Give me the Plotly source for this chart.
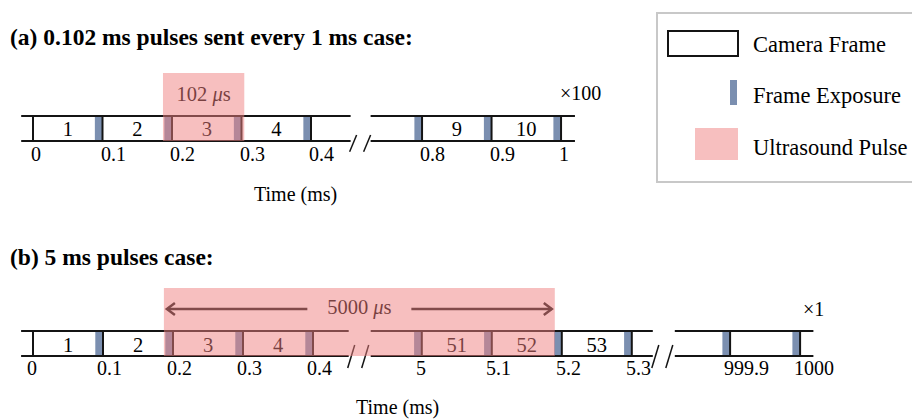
import plotly.graph_objects as go

# ---------------- data ----------------
title_a = "(a) 0.102 ms pulses sent every 1 ms case:"
ticks_a = [0, 0.1, 0.2, 0.3, 0.4, 0.8, 0.9, 1.0]
tick_labels_a = ["0", "0.1", "0.2", "0.3", "0.4", "0.8", "0.9", "1"]
exposure_a = [0.1, 0.2, 0.3, 0.4, 0.8, 0.9, 1.0]
frame_starts_a = [0, 0.1, 0.2, 0.3, 0.8, 0.9]
frame_labels_a = ["1", "2", "3", "4", "9", "10"]
segments_a = [(-0.017, 0.457), (0.726, 1.020)]   # shown time windows (ms)
pulse_a = [0.187, 0.304]
pulse_label_a = "102 <i>μ</i>s"
repeat_a = "×100"

title_b = "(b) 5 ms pulses case:"
ticks_b = [0, 0.1, 0.2, 0.3, 0.4, 5, 5.1, 5.2, 5.3, 999.9, 1000]
tick_labels_b = ["0", "0.1", "0.2", "0.3", "0.4", "5", "5.1", "5.2", "5.3", "999.9", "1000"]
exposure_b = [0.1, 0.2, 0.3, 0.4, 5, 5.1, 5.2, 5.3, 999.9, 1000]
frame_starts_b = [0, 0.1, 0.2, 0.3, 5, 5.1, 5.2]
frame_labels_b = ["1", "2", "3", "4", "51", "52", "53"]
segments_b = [(-0.017, 0.451), (4.927, 5.33), (999.821, 1000.019)]
pulse_b = [0.187, 5.19]
pulse_label_b = "5000 <i>μ</i>s"
repeat_b = "×1"

x_title = "Time (ms)"
legend_labels = ["Camera Frame", "Frame Exposure", "Ultrasound Pulse"]

# ---------------- style ----------------
W, H = 912, 420
FONT = "Liberation Serif, Times New Roman, serif"
BLACK = "#141414"
BLUE = "#7b8fb0"
PINK = "rgba(240,128,128,0.5)"
EXPO_W = 0.011        # exposure bar width (ms)
FRAME_LW = 2


def make_mapper(segments, gap):
    offs, prev_end = [], None
    for i, (t0, t1) in enumerate(segments):
        d0 = t0 if i == 0 else prev_end + gap
        offs.append(t0 - d0)
        prev_end = d0 + (t1 - t0)

    def f(t):
        for (t0, t1), o in zip(segments, offs):
            if t0 - 1e-9 <= t <= t1 + 1e-9:
                return t - o
        return t - offs[-1]
    return f


def panel(cfg):
    xa, ya = cfg["xa"], cfg["ya"]
    scale = cfg["scale"]
    f = make_mapper(cfg["segments"], cfg["gap_px"] / scale)
    tr = []
    # exposure bars
    xs, ys = [], []
    for t in cfg["exposure"]:
        a, b = f(t - EXPO_W), f(t)
        xs += [a, b, b, a, a, None]
        ys += [0, 0, 1, 1, 0, None]
    tr.append(go.Scatter(x=xs, y=ys, fill="toself", fillcolor=BLUE, mode="lines",
                         line=dict(width=0), xaxis=xa, yaxis=ya, hoverinfo="skip"))
    # timeline lines + borders
    xs, ys = [], []
    for t0, t1 in cfg["segments"]:
        xs += [f(t0), f(t1), None, f(t0), f(t1), None]
        ys += [1, 1, None, 0, 0, None]
    for t in cfg["ticks"]:
        xs += [f(t), f(t), None]
        ys += [0, 1, None]
    tr.append(go.Scatter(x=xs, y=ys, mode="lines", line=dict(color=BLACK, width=FRAME_LW),
                         xaxis=xa, yaxis=ya, hoverinfo="skip"))
    # break slashes
    xs, ys = [], []
    for (s0, s1) in zip(cfg["segments"][:-1], cfg["segments"][1:]):
        g = f(s0[1])
        for p0, p1 in [(-1, 6), (13, 20)]:
            xs += [g + p0 / scale, g + p1 / scale, None]
            ys += [cfg["slash_y"][0], cfg["slash_y"][1], None]
    tr.append(go.Scatter(x=xs, y=ys, mode="lines", line=dict(color=BLACK, width=1.5),
                         xaxis=xa, yaxis=ya, hoverinfo="skip"))
    # frame numbers
    tr.append(go.Scatter(x=[f(t) + 0.05 for t in cfg["frame_starts"]],
                         y=[cfg["num_y"]] * len(cfg["frame_starts"]),
                         text=cfg["frame_labels"], mode="text",
                         textfont=dict(family=FONT, size=20.5, color="black"),
                         xaxis=xa, yaxis=ya, hoverinfo="skip"))
    # pulse label + arrows
    d0, d1 = f(cfg["pulse"][0]), f(cfg["pulse"][1])
    mid = (d0 + d1) / 2
    tr.append(go.Scatter(x=[mid], y=[cfg["plabel_y"]], text=[cfg["pulse_label"]], mode="text",
                         textfont=dict(family=FONT, size=20.5, color="black"),
                         xaxis=xa, yaxis=ya, hoverinfo="skip"))
    if cfg["arrows"]:
        ay = cfg["plabel_y"]
        tail = 52 / scale
        hl, hw = 8 / scale, 0.24
        lt, rt = d0 + 3 / scale, d1 - 3 / scale
        xs = [mid - tail, lt, None, lt + hl, lt, lt + hl, None,
              mid + tail, rt, None, rt - hl, rt, rt - hl]
        ys = [ay, ay, None, ay + hw, ay, ay - hw, None,
              ay, ay, None, ay + hw, ay, ay - hw]
        tr.append(go.Scatter(x=xs, y=ys, mode="lines", line=dict(color=BLACK, width=2.5),
                             xaxis=xa, yaxis=ya, hoverinfo="skip"))
    # pulse overlay (on top)
    top = cfg["pulse_top"]
    tr.append(go.Scatter(x=[d0, d1, d1, d0, d0], y=[0, 0, top, top, 0], fill="toself",
                         fillcolor=PINK, mode="lines", line=dict(width=0),
                         xaxis=xa, yaxis=ya, hoverinfo="skip"))
    ann = []
    for t, lab in zip(cfg["ticks"], cfg["tick_labels"]):
        ann.append(dict(x=f(t), y=cfg["tick_y"], xref=xa, yref=ya, text=lab, showarrow=False,
                        xanchor="left", yanchor="middle", xshift=cfg["tick_shift"],
                        font=dict(family=FONT, size=20, color="black")))
    ann.append(dict(x=f(cfg["segments"][-1][1]), y=cfg["rep_y"], xref=xa, yref=ya,
                    text=cfg["repeat"], showarrow=False, xanchor="center", yanchor="middle",
                    xshift=cfg["rep_shift"], font=dict(family=FONT, size=20, color="black")))
    return tr, ann


cfg_a = dict(xa="x", ya="y", scale=695, segments=segments_a, gap_px=20, exposure=exposure_a,
             ticks=ticks_a, tick_labels=tick_labels_a, frame_starts=frame_starts_a,
             frame_labels=frame_labels_a, pulse=pulse_a, pulse_label=pulse_label_a,
             repeat=repeat_a, arrows=False, num_y=0.42, plabel_y=1.8, pulse_top=2.72,
             tick_y=-0.52, tick_shift=-4, rep_y=1.92, rep_shift=6, slash_y=(-0.43, 0.24))
cfg_b = dict(xa="x2", ya="y2", scale=700, segments=segments_b, gap_px=22, exposure=exposure_b,
             ticks=ticks_b, tick_labels=tick_labels_b, frame_starts=frame_starts_b,
             frame_labels=frame_labels_b, pulse=pulse_b, pulse_label=pulse_label_b,
             repeat=repeat_b, arrows=True, num_y=0.38, plabel_y=1.88, pulse_top=2.72,
             tick_y=-0.48, tick_shift=-8, rep_y=1.88, rep_shift=0, slash_y=(-0.48, 0.44))

tr_a, ann_a = panel(cfg_a)
tr_b, ann_b = panel(cfg_b)

fig = go.Figure(tr_a + tr_b)


def X(px):
    return px / W


def Y(py):
    return 1 - py / H


ann = ann_a + ann_b
ann.append(dict(x=X(8), y=Y(37), xref="paper", yref="paper", text="<b>%s</b>" % title_a,
                showarrow=False, xanchor="left", yanchor="middle",
                font=dict(family=FONT, size=23.5, color="black")))
ann.append(dict(x=X(8), y=Y(257), xref="paper", yref="paper", text="<b>%s</b>" % title_b,
                showarrow=False, xanchor="left", yanchor="middle",
                font=dict(family=FONT, size=23.5, color="black")))
ann.append(dict(x=X(295), y=Y(194), xref="paper", yref="paper", text=x_title, showarrow=False,
                xanchor="center", yanchor="middle", font=dict(family=FONT, size=20, color="black")))
ann.append(dict(x=X(397), y=Y(407), xref="paper", yref="paper", text=x_title, showarrow=False,
                xanchor="center", yanchor="middle", font=dict(family=FONT, size=20, color="black")))
for lab, py in zip(legend_labels, [45, 96, 147]):
    ann.append(dict(x=X(751), y=Y(py), xref="paper", yref="paper", text=lab, showarrow=False,
                    xanchor="left", yanchor="middle", font=dict(family=FONT, size=22.5, color="black")))

shapes = [
    dict(type="rect", xref="paper", yref="paper", x0=X(657), x1=X(918), y0=Y(13), y1=Y(182),
         line=dict(color="#c8c8c8", width=2), fillcolor="white", layer="below"),
    dict(type="rect", xref="paper", yref="paper", x0=X(668), x1=X(738), y0=Y(31), y1=Y(56),
         line=dict(color=BLACK, width=2), fillcolor="white"),
    dict(type="rect", xref="paper", yref="paper", x0=X(730), x1=X(737), y0=Y(80), y1=Y(105),
         line=dict(width=0), fillcolor=BLUE),
    dict(type="rect", xref="paper", yref="paper", x0=X(695), x1=X(738), y0=Y(128), y1=Y(160),
         line=dict(width=0), fillcolor=PINK),
]

ax = dict(visible=False, fixedrange=True, domain=[0, 1])
fig.update_layout(
    width=W, height=H, margin=dict(l=0, r=0, t=0, b=0), autosize=False,
    paper_bgcolor="white", plot_bgcolor="rgba(0,0,0,0)", showlegend=False, hovermode=False,
    xaxis=dict(ax, range=[-33 / 695, (W - 33) / 695], anchor="y"),
    yaxis=dict(ax, range=[-(H - 141) / 25, 141 / 25], anchor="x"),
    xaxis2=dict(ax, range=[-33 / 700, (W - 33) / 700], anchor="y2"),
    yaxis2=dict(ax, range=[-(H - 356) / 25, 356 / 25], anchor="x2"),
    annotations=ann, shapes=shapes,
)

fig.write_html("out.html")
